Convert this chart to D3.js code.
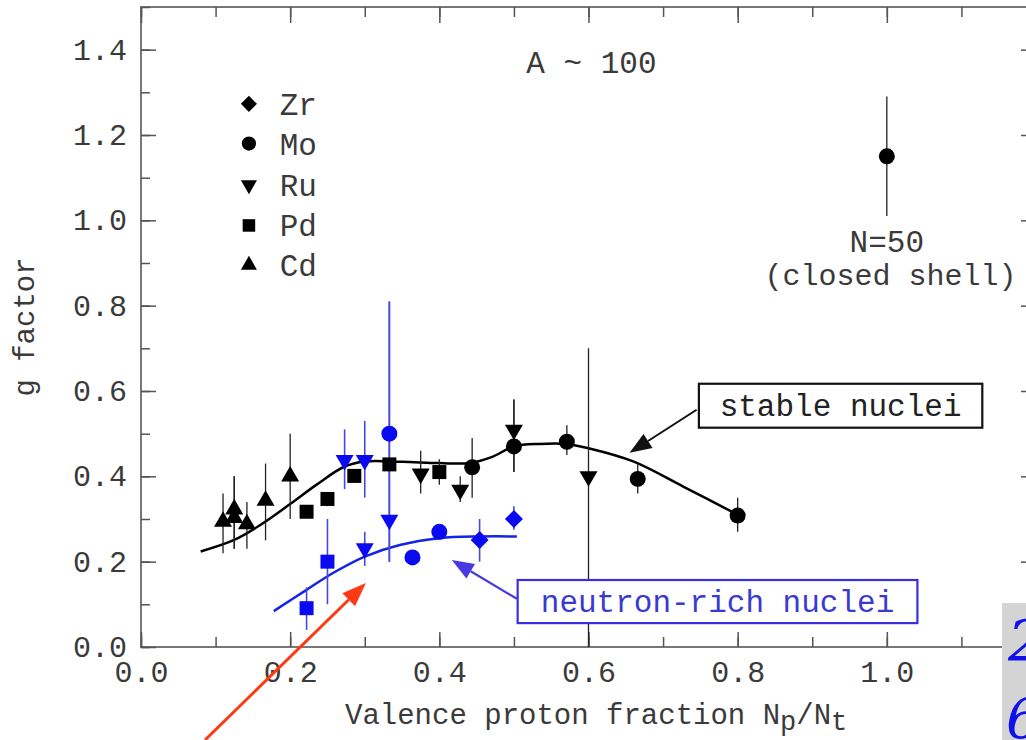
<!DOCTYPE html>
<html lang="en">
<head>
  <meta charset="utf-8">
  <title>g factor vs valence proton fraction, A ~ 100</title>
  <script type="text/javascript" src="https://d3js.org/d3.v7.min.js"></script>
</head>
<style>
body {
  margin: 0;
  background: #fff;
  font-family: "Liberation Mono", "Courier New", monospace;
}
text { fill: #3a3a3a; }
</style>
<body>
<script type="text/javascript">
// stable nuclei (black) : [Np/Nt, g, err low, err high]
var cdStable = [[0.110, 0.294, 0.22, 0.36], [0.125, 0.323, 0.23, 0.40], [0.125, 0.303, 0.23, 0.40],
                [0.142, 0.288, 0.23, 0.34], [0.167, 0.343, 0.25, 0.43], [0.200, 0.400, 0.30, 0.50]];
var pdStable = [[0.222, 0.317, 0.31, 0.33], [0.250, 0.347, 0.33, 0.36], [0.286, 0.401, 0.39, 0.41],
                [0.333, 0.428, 0.41, 0.44], [0.400, 0.410, 0.38, 0.44]];
var ruStable = [[0.375, 0.406, 0.36, 0.46], [0.428, 0.368, 0.34, 0.40], [0.500, 0.509, 0.41, 0.58],
                [0.600, 0.400, 0.00, 0.70]];
var moStable = [[0.444, 0.421, 0.35, 0.49], [0.500, 0.470, 0.41, 0.58], [0.571, 0.481, 0.45, 0.52],
                [0.666, 0.394, 0.36, 0.43], [0.800, 0.308, 0.27, 0.35], [1.000, 1.150, 1.01, 1.29]];
// neutron-rich nuclei (blue)
var ruRich = [[0.273, 0.438, 0.37, 0.51], [0.300, 0.438, 0.35, 0.53], [0.333, 0.298, 0.20, 0.81],
              [0.300, 0.231, 0.19, 0.27]];
var moRich = [[0.333, 0.500, 0.20, 0.81], [0.364, 0.210, 0.21, 0.21], [0.400, 0.270, 0.27, 0.27]];
var zrRich = [[0.454, 0.251, 0.20, 0.30], [0.500, 0.300, 0.275, 0.33]];
var pdRich = [[0.222, 0.091, 0.04, 0.14], [0.250, 0.200, 0.10, 0.30]];
// systematics curves
var stableCurve = [[0.08, 0.224], [0.125, 0.251], [0.16, 0.286], [0.2, 0.335], [0.235, 0.38], [0.273, 0.423],
                   [0.30, 0.435], [0.35, 0.434], [0.40, 0.431], [0.44, 0.431], [0.47, 0.445], [0.50, 0.470],
                   [0.535, 0.476], [0.57, 0.476], [0.60, 0.466], [0.66, 0.435], [0.727, 0.376], [0.80, 0.31]];
var richCurve = [[0.178, 0.084], [0.222, 0.134], [0.258, 0.174], [0.30, 0.212], [0.347, 0.239],
                 [0.40, 0.255], [0.454, 0.259], [0.504, 0.259]];
var legendNames = ["Zr", "Mo", "Ru", "Pd", "Cd"];
var xTickLabels = [0.0, 0.2, 0.4, 0.6, 0.8, 1.0];
var yTickLabels = [0.0, 0.2, 0.4, 0.6, 0.8, 1.0, 1.2, 1.4];

var w = 1026, h = 740;
var blue = "#0a0af0";

var svg = d3.select("body").append("svg")
  .attr("width", w).attr("height", h);

var x = d3.scaleLinear().domain([0, 1.2]).range([141, 1036]);
var y = d3.scaleLinear().domain([0, 1.5]).range([647, 7]);

var minorX = d3.range(0, 1.21, 0.1), minorY = d3.range(0, 1.51, 0.1);

// frame
svg.append("rect")
  .attr("x", x(0)).attr("y", y(1.5))
  .attr("width", x(1.2) - x(0)).attr("height", y(0) - y(1.5))
  .attr("fill", "none").attr("stroke", "#777").attr("stroke-width", 2);

function styleAxis(g) {
  g.select(".domain").remove();
  g.selectAll("line").attr("stroke", "#555").attr("stroke-width", 1.5);
  g.selectAll("text").attr("font-family", "Liberation Mono").attr("font-size", 30).attr("fill", "#3a3a3a");
}

// bottom / top axes (ticks point inward)
svg.append("g").attr("transform", "translate(0," + y(0) + ")")
  .call(d3.axisBottom(x).tickValues(minorX).tickSize(-10).tickFormat("")).call(styleAxis);
svg.append("g").attr("transform", "translate(0," + y(0) + ")")
  .call(d3.axisBottom(x).tickValues(xTickLabels).tickSize(-15).tickPadding(14).tickFormat(d3.format(".1f")))
  .call(styleAxis);
svg.append("g").attr("transform", "translate(0," + y(1.5) + ")")
  .call(d3.axisTop(x).tickValues(minorX).tickSize(-10).tickFormat("")).call(styleAxis);
svg.append("g").attr("transform", "translate(0," + y(1.5) + ")")
  .call(d3.axisTop(x).tickValues(xTickLabels).tickSize(-16).tickFormat("")).call(styleAxis);

// left / right axes
svg.append("g").attr("transform", "translate(" + x(0) + ",0)")
  .call(d3.axisLeft(y).tickValues(minorY).tickSize(-9).tickFormat("")).call(styleAxis);
svg.append("g").attr("transform", "translate(" + x(0) + ",0)")
  .call(d3.axisLeft(y).tickValues(yTickLabels).tickSize(-15).tickPadding(14).tickFormat(d3.format(".1f")))
  .call(styleAxis);
svg.append("g").attr("transform", "translate(" + x(1.2) + ",0)")
  .call(d3.axisRight(y).tickValues(minorY).tickSize(-9).tickFormat("")).call(styleAxis);
svg.append("g").attr("transform", "translate(" + x(1.2) + ",0)")
  .call(d3.axisRight(y).tickValues(yTickLabels).tickSize(-15).tickFormat("")).call(styleAxis);

// axis titles
var xt = svg.append("text").attr("x", 345).attr("y", 724).attr("font-size", 29);
xt.append("tspan").text("Valence proton fraction N");
xt.append("tspan").attr("dy", 6).attr("font-size", 27).text("p");
xt.append("tspan").attr("dy", -6).text("/N");
xt.append("tspan").attr("dy", 6).attr("font-size", 27).text("t");

svg.append("text")
  .attr("transform", "translate(34,327) rotate(-90)")
  .attr("text-anchor", "middle").attr("font-size", 29)
  .text("g factor");

// curves
var line = d3.line().x(function(d) { return x(d[0]); }).y(function(d) { return y(d[1]); })
  .curve(d3.curveCatmullRom);
svg.append("path").datum(stableCurve).attr("d", line)
  .attr("fill", "none").attr("stroke", "#000").attr("stroke-width", 2.5);
svg.append("path").datum(richCurve).attr("d", line)
  .attr("fill", "none").attr("stroke", "#1424e6").attr("stroke-width", 2.5);

// error bars
function errBars(data, color, width) {
  svg.append("g").selectAll("line").data(data).enter().append("line")
    .attr("x1", function(d) { return x(d[0]); }).attr("x2", function(d) { return x(d[0]); })
    .attr("y1", function(d) { return y(d[2]); }).attr("y2", function(d) { return y(d[3]); })
    .attr("stroke", color).attr("stroke-width", width);
}
[cdStable, pdStable, ruStable, moStable].forEach(function(s) { errBars(s, "#222", 1.3); });
[ruRich, moRich, zrRich, pdRich].forEach(function(s) { errBars(s, "#4848dc", 1.6); });

// markers
var shapes = {
  Zr: { type: d3.symbolSquare, size: 162, rot: 45 },
  Mo: { type: d3.symbolCircle, size: 201, rot: 0 },
  Ru: { type: d3.symbolTriangle, size: 140, rot: 180 },
  Pd: { type: d3.symbolSquare, size: 196, rot: 0 },
  Cd: { type: d3.symbolTriangle, size: 140, rot: 0 }
};
function markers(data, name, color) {
  var s = shapes[name];
  svg.append("g").selectAll("path").data(data).enter().append("path")
    .attr("d", d3.symbol().type(s.type).size(s.size))
    .attr("transform", function(d) {
      return "translate(" + x(d[0]) + "," + y(d[1]) + ") rotate(" + s.rot + ")";
    })
    .attr("fill", color);
}
markers(cdStable, "Cd", "#000");
markers(pdStable, "Pd", "#000");
markers(ruStable, "Ru", "#000");
markers(moStable, "Mo", "#000");
markers(pdRich, "Pd", blue);
markers(ruRich, "Ru", blue);
markers(moRich, "Mo", blue);
markers(zrRich, "Zr", blue);

// legend
var legY = [1.273, 1.18, 1.083, 0.988, 0.895];
legendNames.forEach(function(name, i) {
  var s = shapes[name];
  svg.append("path")
    .attr("d", d3.symbol().type(s.type).size(s.size * 0.8))
    .attr("transform", "translate(" + x(0.1447) + "," + y(legY[i]) + ") rotate(" + s.rot + ")")
    .attr("fill", "#000");
  svg.append("text").attr("x", x(0.186)).attr("y", y(legY[i]) + 11)
    .attr("font-size", 31).text(name);
});

// annotations
svg.append("text").attr("x", x(0.604)).attr("y", y(1.346))
  .attr("text-anchor", "middle").attr("font-size", 31).text("A ~ 100");
svg.append("text").attr("x", x(1.0)).attr("y", y(0.926))
  .attr("text-anchor", "middle").attr("font-size", 31).text("N=50");
svg.append("text").attr("x", x(1.005)).attr("y", y(0.849))
  .attr("text-anchor", "middle").attr("font-size", 30).text("(closed shell)");

function arrow(x0, y0, x1, y1, color, width, head) {
  var px0 = x(x0), py0 = y(y0), px1 = x(x1), py1 = y(y1);
  var a = Math.atan2(py1 - py0, px1 - px0);
  var bx = px1 - head * Math.cos(a), by = py1 - head * Math.sin(a);
  svg.append("line").attr("x1", px0).attr("y1", py0).attr("x2", bx).attr("y2", by)
    .attr("stroke", color).attr("stroke-width", width);
  var hw = head * 0.38;
  svg.append("path")
    .attr("d", "M" + px1 + "," + py1 +
      "L" + (bx + hw * Math.sin(a)) + "," + (by - hw * Math.cos(a)) +
      "L" + (bx - hw * Math.sin(a)) + "," + (by + hw * Math.cos(a)) + "Z")
    .attr("fill", color);
}

function box(x0, x1, y0, y1, label, color, textColor) {
  svg.append("rect").attr("x", x(x0)).attr("y", y(y1))
    .attr("width", x(x1) - x(x0)).attr("height", y(y0) - y(y1))
    .attr("fill", "#fff").attr("stroke", color).attr("stroke-width", 2.2);
  svg.append("text").attr("x", (x(x0) + x(x1)) / 2).attr("y", (y(y0) + y(y1)) / 2 + 10)
    .attr("text-anchor", "middle").attr("font-size", 31).style("fill", textColor).text(label);
}

arrow(0.745, 0.556, 0.655, 0.455, "#111", 2, 22);
box(0.748, 1.128, 0.514, 0.617, "stable nuclei", "#111", "#222");
arrow(0.504, 0.113, 0.4167, 0.204, "#4a38e0", 2.2, 22);
box(0.505, 1.041, 0.056, 0.157, "neutron-rich nuclei", "#3a2ee0", "#3a3ad0");

// red pointer from below
arrow(0.0858, -0.218, 0.3015, 0.150, "#ff3a12", 3, 24);

// neighbouring picture clipped at bottom right
svg.append("clipPath").attr("id", "side")
  .append("rect").attr("x", 1002).attr("y", 603).attr("width", 24).attr("height", 137);
var side = svg.append("g").attr("clip-path", "url(#side)");
side.append("rect").attr("x", 1002).attr("y", 603).attr("width", 24).attr("height", 137)
  .attr("fill", "#d4d4d4");
side.append("text").attr("x", 1008).attr("y", 660).attr("font-family", "DejaVu Serif")
  .attr("font-style", "italic").attr("font-size", 56).style("fill", "#1010e8").text("2");
side.append("text").attr("x", 1006).attr("y", 738).attr("font-family", "DejaVu Serif")
  .attr("font-style", "italic").attr("font-size", 56).style("fill", "#1010e8").text("6");
</script>
</body>
</html>
